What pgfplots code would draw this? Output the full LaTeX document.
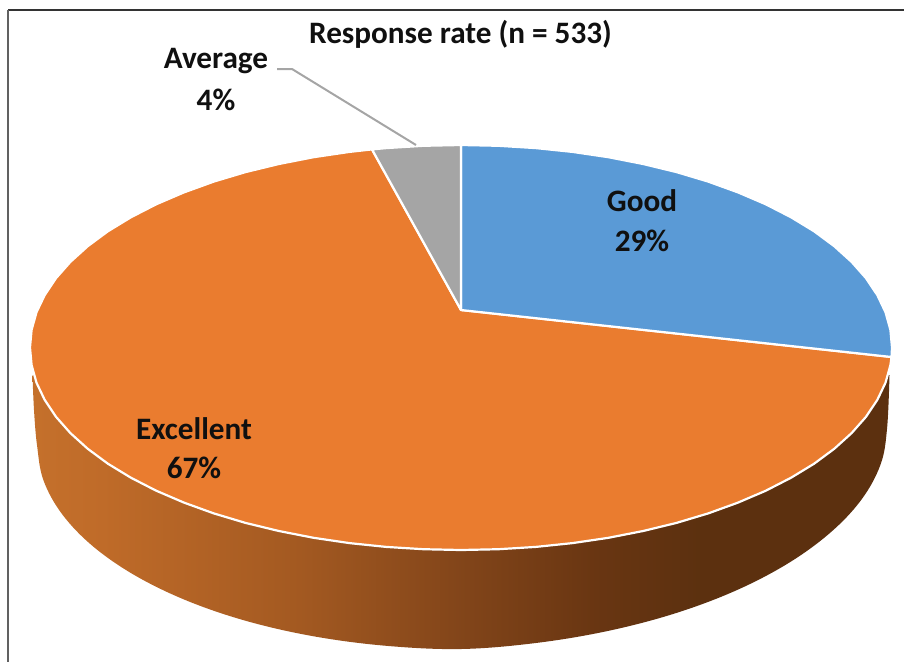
\documentclass[border=0pt]{standalone}
\usepackage{pgfplots}
\usepackage{fontspec}
\setmainfont{Carlito}
\pgfplotsset{compat=1.18}
\definecolor{goodblue}{HTML}{5A9AD6}
\definecolor{excorange}{HTML}{EA7C2F}
\definecolor{avggray}{HTML}{A5A5A5}
\definecolor{labeltext}{HTML}{101010}
% Rim of the disc: light on the left, dark brown on the right
% (TikZ fits the central 25bp to 75bp of a shading to the path)
\pgfdeclarehorizontalshading{rimshade}{100bp}{
  rgb(0bp)=(0.77,0.44,0.17);
  rgb(25bp)=(0.77,0.44,0.17);
  rgb(29bp)=(0.75,0.42,0.16);
  rgb(40.5bp)=(0.64,0.35,0.13);
  rgb(50bp)=(0.51,0.27,0.10);
  rgb(58bp)=(0.41,0.21,0.07);
  rgb(64bp)=(0.36,0.19,0.06);
  rgb(100bp)=(0.36,0.19,0.06)}
\newcommand{\lab}[1]{\fontsize{31.2}{36}\selectfont\bfseries #1}
\begin{document}
\begin{tikzpicture}
\begin{axis}[
  scale only axis, width=904pt, height=662pt,
  xmin=0, xmax=904, ymin=0, ymax=662, y dir=reverse,
  hide axis, clip=false,
]
% Page extent
\path[use as bounding box] (axis cs:0,0) rectangle (axis cs:904,662);

% Frame on the top and left
\addplot[draw=black!80, line width=1.2pt, mark=none] coordinates {(904,10) (8,10)};
\addplot[draw=black!62, line width=1.5pt, mark=none] coordinates {(8,10) (8,662)};

% Rim below the top face
\addplot[draw=none, shade, shading=rimshade, mark=none, smooth, tension=0.6] coordinates {
  (32.5,375) (34,410) (37,445) (43.5,480.4) (62.6,514.8) (93.8,547) (136.2,576.1)
  (188.5,601.3) (249,621.7) (316,636.7) (387.4,645.9) (461,649) (535,643.1)
  (606.7,631.2) (674,613.7) (734.8,591) (787.3,563.8) (829.9,533) (861.3,499.8)
  (880.5,464.6) (887,429) (889.5,375)} -- cycle;

% Excellent, 67%
\addplot[fill=excorange, draw=white, line width=2.2pt, mark=none, line join=round] coordinates {
  (461,310) (891.5,357) (890.4,365.1) (885.5,382.7) (877.3,399.9) (866.0,416.8)
  (851.6,433.1) (834.3,448.75) (814.1,463.7) (791.1,477.7) (765.8,490.7) (738.0,502.6)
  (708.2,513.4) (676.5,522.9) (643.1,531.0) (608.4,537.8) (572.5,543.1) (535.8,546.9)
  (498.6,549.2) (461,550) (423.4,549.2) (386.2,546.9) (349.5,543.1) (313.6,537.8)
  (278.9,531.0) (245.5,522.9) (213.8,513.4) (184.0,502.6) (156.2,490.7) (130.9,477.7)
  (107.9,463.7) (87.7,448.75) (70.4,433.1) (56.0,416.8) (44.7,399.9) (36.5,382.7)
  (31.6,365.1) (30,347.5) (31.6,329.9) (36.5,312.3) (44.7,295.1) (56,278.2)
  (70.4,261.9) (87.7,246.25) (107.9,231.3) (130.9,217.3) (156.2,204.3) (184,192.4)
  (213.8,181.6) (245.5,172.1) (278.9,164) (313.6,157.2) (349.5,151.9) (372,149.4)} -- cycle;

% Good, 29%
\addplot[fill=goodblue, draw=white, line width=2.2pt, mark=none, line join=round] coordinates {
  (461,310) (461,145) (498.6,145.8) (535.8,148.1) (572.5,151.9) (608.4,157.2)
  (643.1,164.0) (676.5,172.1) (708.2,181.6) (738.0,192.4) (765.8,204.3) (791.1,217.3)
  (814.1,231.3) (834.3,246.25) (851.6,261.9) (866.0,278.2) (877.3,295.1) (885.5,312.3)
  (890.4,329.9) (892,347.5) (891.5,357)} -- cycle;

% Average, 4%
\addplot[fill=avggray, draw=white, line width=2.2pt, mark=none, line join=round] coordinates {
  (461,310) (372,149.4) (386.2,148.1) (423.4,145.8) (461,145)} -- cycle;

% Leader from the Average label to its slice
\addplot[draw=avggray, line width=2pt, mark=none] coordinates {(277,69) (292,69) (416,145)};

\node[text=labeltext, inner sep=0pt] at (axis cs:460.5,34) {\lab{Response rate (n = 533)}};
\node[text=labeltext, inner sep=0pt] at (axis cs:216,61) {\lab{Average}};
\node[text=labeltext, inner sep=0pt] at (axis cs:216,100) {\lab{4\%}};
\node[text=labeltext, inner sep=0pt] at (axis cs:642,201) {\lab{Good}};
\node[text=labeltext, inner sep=0pt] at (axis cs:642,241) {\lab{29\%}};
\node[text=labeltext, inner sep=0pt] at (axis cs:194,429) {\lab{Excellent}};
\node[text=labeltext, inner sep=0pt] at (axis cs:194,468) {\lab{67\%}};
\end{axis}
\end{tikzpicture}
\end{document}
